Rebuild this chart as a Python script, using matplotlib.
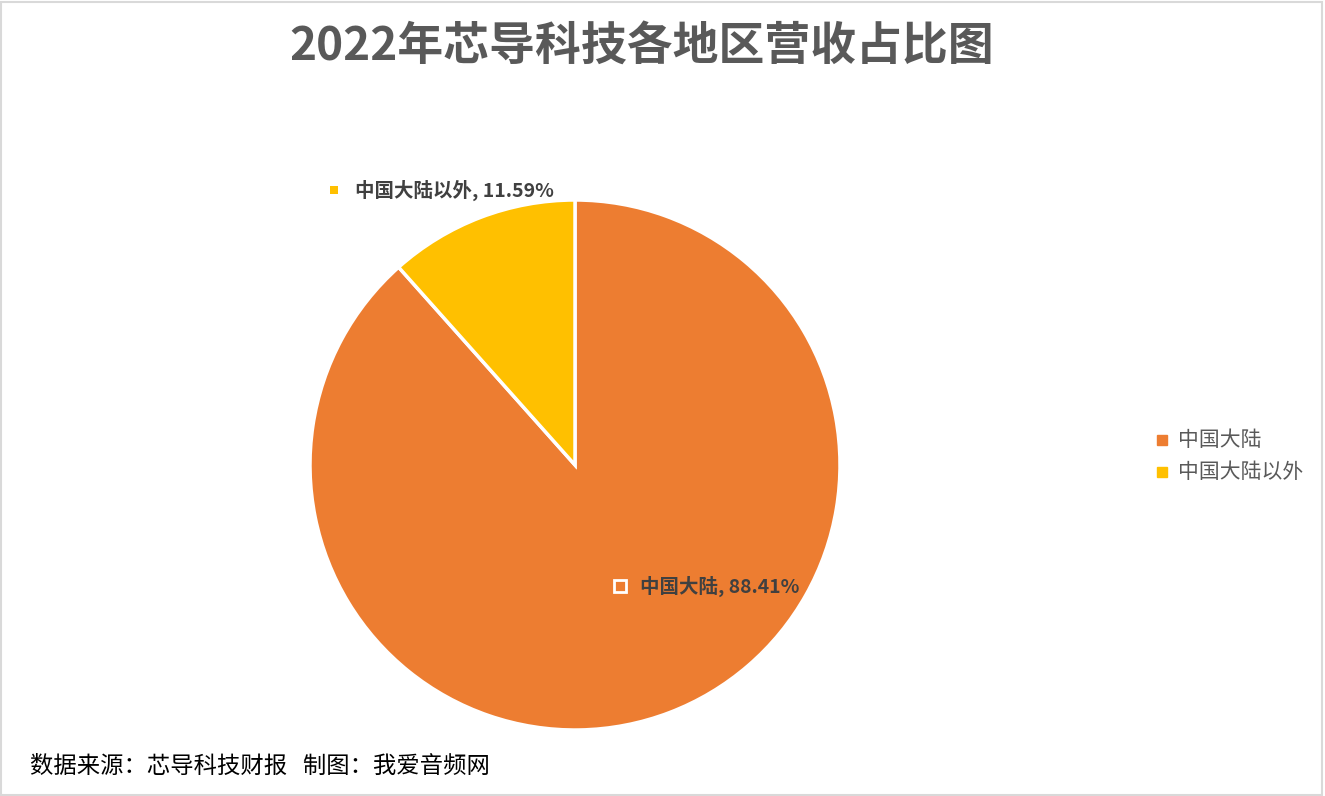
import matplotlib
matplotlib.use("Agg")
import matplotlib.pyplot as plt
from matplotlib.patches import Rectangle

plt.rcParams['font.family'] = ['Noto Sans CJK SC', 'DejaVu Sans']

title = "2022年芯导科技各地区营收占比图"
regions = ["中国大陆", "中国大陆以外"]
shares = [88.41, 11.59]
colors = ["#ED7D31", "#FFC000"]
footer = "数据来源：芯导科技财报   制图：我爱音频网"

W, H = 1325, 796
fig = plt.figure(figsize=(W / 100, H / 100), dpi=100)
fig.patch.set_facecolor("white")

# border around the chart area
fig.patches.append(Rectangle((0.001, 0.001), 0.997, 0.997, transform=fig.transFigure,
                             fill=False, edgecolor="#D9D9D9", linewidth=1.5))

# pie centre (575, 465), radius 265 px
cx, cy, r = 575, 465, 265
ax = fig.add_axes([(cx - r) / W, (H - cy - r) / H, 2 * r / W, 2 * r / H])
wedges, _ = ax.pie(shares, colors=colors, startangle=90, counterclock=False,
                   radius=1, wedgeprops=dict(edgecolor="white", linewidth=2.5))
ax.set_xlim(-1, 1)
ax.set_ylim(-1, 1)
ax.set_aspect("equal")
ax.axis("off")

fig.text(642 / W, (H - 47) / H, title, ha="center", va="center",
         fontsize=33, color="#595959", fontweight="semibold")

# data labels
label_pos = [(640, 586), (355, 190)]
marker_pos = [(620, 586), (334, 190)]
for i in range(len(regions)):
    tx, ty = label_pos[i]
    mx, my = marker_pos[i]
    fig.text(tx / W, (H - ty) / H, f"{regions[i]}, {shares[i]:.2f}%",
             ha="left", va="center", fontsize=14, fontweight="bold", color="#404040")
    ec = "white" if i == 0 else colors[i]
    fig.add_artist(plt.Line2D([mx / W], [(H - my) / H], marker="s", markersize=8 if i == 0 else 6,
                              markerfacecolor=colors[i], markeredgecolor=ec,
                              markeredgewidth=2 if i == 0 else 0, transform=fig.transFigure))

# legend
leg_y = [440, 472]
for i in range(len(regions)):
    fig.add_artist(plt.Line2D([1162 / W], [(H - leg_y[i]) / H], marker="s", markersize=7,
                              color=colors[i], transform=fig.transFigure))
    fig.text(1178 / W, (H - leg_y[i]) / H, regions[i], ha="left", va="center",
             fontsize=15, color="#595959", fontweight="medium")

fig.text(30 / W, (H - 766) / H, footer, ha="left", va="center", fontsize=16.8, color="#000000")

fig.savefig("out.png", dpi=100)
